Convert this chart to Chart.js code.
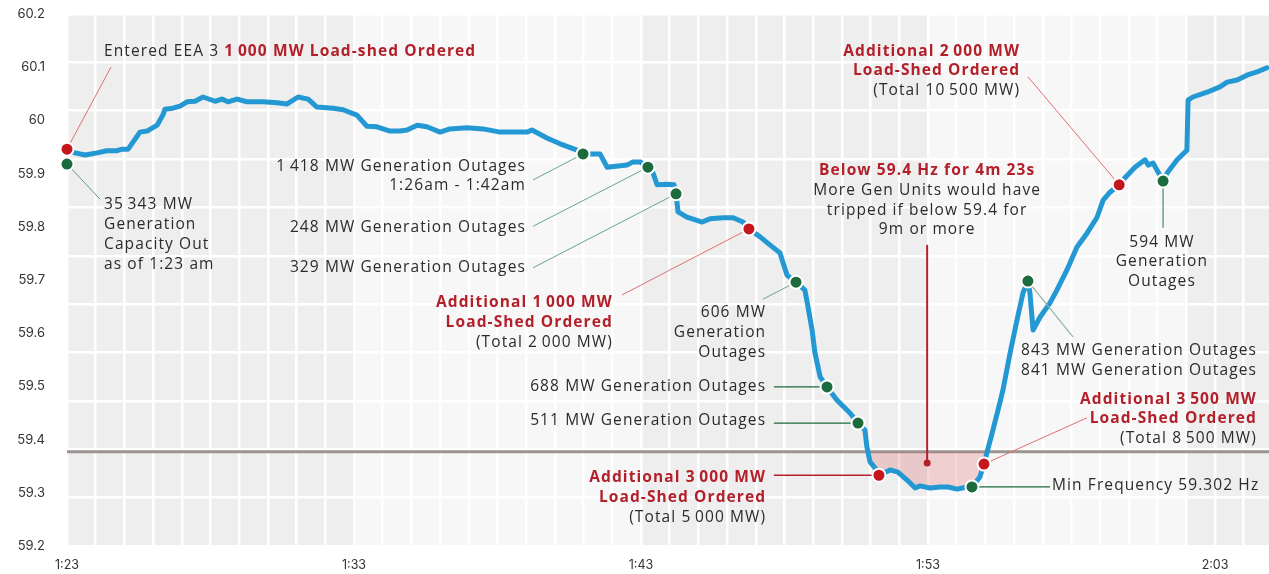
<!DOCTYPE html>
<html>
<head>
<meta charset="utf-8">
<script src="https://cdn.jsdelivr.net/npm/chart.js@4/dist/chart.umd.min.js"></script>
<style>
  html, body { margin: 0; padding: 0; background: #fff; }
</style>
</head>
<body>
<canvas id="freq" width="1269" height="574"></canvas>
<script>
// minutes after 1:23 am
const minutes = [0,0.28,0.63,1.05,1.39,1.74,1.92,2.13,2.54,2.79,3.14,3.34,3.41,3.69,3.94,4.18,4.46,4.74,5.16,5.40,
  5.61,5.92,6.27,6.83,7.32,7.67,8.05,8.40,8.71,9.27,9.62,10.10,10.45,10.80,11.25,11.60,11.85,12.20,12.54,13.00,
  13.34,13.94,14.49,15.09,16.03,16.20,16.72,17.18,17.77,17.98,18.33,18.57,18.82,19.51,19.72,19.97,20.24,20.42,20.56,20.91,
  21.15,21.22,21.29,21.60,22.13,22.40,22.86,23.21,23.55,23.76,24.15,24.49,24.84,24.95,25.09,25.40,25.71,25.82,25.96,26.06,
  26.24,26.48,26.83,27.28,27.56,27.80,27.87,27.98,28.15,28.29,28.68,28.95,29.27,29.55,29.72,30.07,30.42,30.70,31.01,31.36,
  31.53,31.81,31.95,32.06,32.26,32.44,32.61,32.86,33.10,33.31,33.48,33.55,33.66,33.90,34.25,34.49,34.84,35.19,35.54,35.89,
  36.10,36.34,36.66,36.79,37.21,37.56,37.67,37.84,38.19,38.33,38.68,39.02,39.06,39.23,39.72,40.17,40.42,40.77,41.11,41.46,41.81];
// frequency, Hz
const freq = [59.944,59.939,59.935,59.939,59.943,59.943,59.946,59.946,59.978,59.980,59.991,60.010,60.021,60.023,60.027,60.035,60.036,60.044,60.036,60.040,
  60.035,60.040,60.035,60.035,60.033,60.031,60.044,60.040,60.025,60.023,60.020,60.010,59.989,59.988,59.980,59.980,59.982,59.991,59.988,59.978,
  59.984,59.986,59.984,59.978,59.978,59.982,59.967,59.956,59.944,59.937,59.937,59.937,59.912,59.916,59.922,59.922,59.912,59.901,59.879,59.880,
  59.879,59.862,59.828,59.818,59.809,59.815,59.817,59.817,59.809,59.796,59.781,59.766,59.751,59.732,59.709,59.696,59.681,59.649,59.606,59.563,
  59.518,59.499,59.474,59.450,59.431,59.418,59.386,59.358,59.347,59.333,59.343,59.339,59.324,59.309,59.313,59.309,59.311,59.311,59.307,59.311,
  59.311,59.330,59.354,59.377,59.418,59.456,59.493,59.563,59.625,59.676,59.698,59.676,59.606,59.630,59.657,59.681,59.719,59.762,59.788,59.818,
  59.850,59.865,59.879,59.888,59.912,59.926,59.916,59.920,59.886,59.901,59.926,59.944,60.038,60.044,60.053,60.063,60.072,60.076,60.085,60.091,60.099];

// load-shed orders (red) and generation outages (green)
const shedMinutes = [0, 23.76, 28.29, 31.95, 36.66];
const shedFreq = [59.946, 59.796, 59.333, 59.354, 59.879];
const outageMinutes = [0, 17.98, 20.24, 21.22, 25.40, 26.48, 27.56, 31.53, 33.48, 38.19];
const outageFreq = [59.918, 59.937, 59.912, 59.862, 59.696, 59.499, 59.431, 59.311, 59.698, 59.886];

const threshold = 59.377;
const xMax = 41.88;
const tickMinutes = [0, 10, 20, 30, 40];
const tickLabels = ['1:23', '1:33', '1:43', '1:53', '2:03'];
const bandStarts = [0, 10, 20, 30, 39];

const RED = '#b3202a', DOT_RED = '#c4161c', GREEN = '#1b6b3c', TXT = '#2b2b2b';
const TS = '\u2009';

// annotation text, anchored in data units (minutes, Hz)
const notes = [
  { x: 1.29, y: 60.130, align: 'left', lines: [[['Entered EEA 3 ', 'n'], ['1' + TS + '000 MW Load-shed Ordered', 'r']]] },
  { x: 1.29, y: 59.841, align: 'left', lines: ['35' + TS + '343 MW', 'Generation', 'Capacity Out', 'as of 1:23 am'] },
  { x: 15.99, y: 59.914, align: 'right', lines: ['1' + TS + '418 MW Generation Outages', '1:26am - 1:42am'] },
  { x: 15.99, y: 59.799, align: 'right', lines: ['248 MW Generation Outages'] },
  { x: 15.99, y: 59.723, align: 'right', lines: ['329 MW Generation Outages'] },
  { x: 19.02, y: 59.657, align: 'right', lines: [[['Additional 1' + TS + '000 MW', 'r']], [['Load-Shed Ordered', 'r']], '(Total 2' + TS + '000 MW)'] },
  { x: 24.36, y: 59.638, align: 'right', lines: ['606 MW', 'Generation', 'Outages'] },
  { x: 24.36, y: 59.499, align: 'right', lines: ['688 MW Generation Outages'] },
  { x: 24.36, y: 59.435, align: 'right', lines: ['511 MW Generation Outages'] },
  { x: 24.36, y: 59.328, align: 'right', lines: [[['Additional 3' + TS + '000 MW', 'r']], [['Load-Shed Ordered', 'r']], '(Total 5' + TS + '000 MW)'] },
  { x: 29.97, y: 59.905, align: 'center', lines: [[['Below 59.4 Hz for 4m 23s', 'r']], 'More Gen Units would have', 'tripped if below 59.4 for', '9m or more'] },
  { x: 34.32, y: 59.313, align: 'left', lines: ['Min Frequency 59.302 Hz'] },
  { x: 41.46, y: 59.476, align: 'right', lines: [[['Additional 3' + TS + '500 MW', 'r']], [['Load-Shed Ordered', 'r']], '(Total 8' + TS + '500 MW)'] },
  { x: 41.46, y: 59.567, align: 'right', lines: ['843 MW Generation Outages', '841 MW Generation Outages'] },
  { x: 33.21, y: 60.130, align: 'right', lines: [[['Additional 2' + TS + '000 MW', 'r']], [['Load-Shed Ordered', 'r']], '(Total 10' + TS + '500 MW)'] },
  { x: 38.15, y: 59.771, align: 'center', lines: ['594 MW', 'Generation', 'Outages'] }
];

const leaders = [
  { from: [0, 59.946], to: [1.53, 60.100], color: '#e07070', w: 1 },
  { from: [0, 59.918], to: [1.15, 59.852], color: '#5f9e80', w: 1 },
  { from: [17.98, 59.937], to: [16.24, 59.888], color: '#6aa587', w: 1 },
  { from: [20.24, 59.912], to: [16.24, 59.801], color: '#6aa587', w: 1 },
  { from: [21.22, 59.862], to: [16.24, 59.723], color: '#6aa587', w: 1 },
  { from: [23.76, 59.796], to: [19.34, 59.672], color: '#e07070', w: 1 },
  { from: [25.40, 59.696], to: [24.25, 59.664], color: '#6aa587', w: 1 },
  { from: [26.48, 59.499], to: [24.63, 59.499], color: GREEN, w: 1.3 },
  { from: [27.56, 59.431], to: [24.63, 59.431], color: GREEN, w: 1.3 },
  { from: [28.29, 59.333], to: [24.63, 59.333], color: RED, w: 1.3 },
  { from: [31.53, 59.311], to: [34.25, 59.311], color: GREEN, w: 1.3 },
  { from: [31.95, 59.354], to: [35.54, 59.441], color: '#e07070', w: 1 },
  { from: [33.48, 59.698], to: [35.05, 59.593], color: '#8fb5a2', w: 1.2 },
  { from: [36.66, 59.879], to: [33.48, 60.082], color: '#e07070', w: 1 },
  { from: [38.19, 59.886], to: [38.19, 59.798], color: '#6aa587', w: 1.5 },
  { from: [29.97, 59.766], to: [29.97, 59.356], color: RED, w: 2 }
];
const belowMark = [29.97, 59.356];

const fontN = '15.5px "Open Sans"';
const fontB = 'bold 15.5px "Open Sans"';
const lineH = 19.7;

const bandsPlugin = {
  id: 'bands',
  beforeDraw(chart) {
    const { ctx, chartArea: a, scales: { x } } = chart;
    ctx.save();
    bandStarts.forEach((s, i) => {
      const e = i < bandStarts.length - 1 ? bandStarts[i + 1] : xMax;
      const x0 = x.getPixelForValue(s), x1 = x.getPixelForValue(e);
      ctx.fillStyle = i % 2 ? '#f7f7f7' : '#eeeeee';
      ctx.fillRect(x0, a.top, x1 - x0, a.bottom - a.top);
    });
    ctx.restore();
  }
};

const leadersPlugin = {
  id: 'leaders',
  afterDatasetDraw(chart, args) {
    if (args.index !== 0) return;
    const { ctx, scales: { x, y } } = chart;
    ctx.save();
    leaders.forEach(l => {
      ctx.beginPath();
      ctx.strokeStyle = l.color;
      ctx.lineWidth = l.w;
      ctx.moveTo(x.getPixelForValue(l.from[0]), y.getPixelForValue(l.from[1]));
      ctx.lineTo(x.getPixelForValue(l.to[0]), y.getPixelForValue(l.to[1]));
      ctx.stroke();
    });
    ctx.beginPath();
    ctx.fillStyle = RED;
    ctx.arc(x.getPixelForValue(belowMark[0]), y.getPixelForValue(belowMark[1]), 3.5, 0, Math.PI * 2);
    ctx.fill();
    ctx.restore();
  }
};

const notesPlugin = {
  id: 'notes',
  afterDraw(chart) {
    const { ctx, scales: { x, y } } = chart;
    ctx.save();
    ctx.textBaseline = 'middle';
    ctx.letterSpacing = '1.1px';
    notes.forEach(n => {
      const px = x.getPixelForValue(n.x);
      let py = y.getPixelForValue(n.y);
      n.lines.forEach(line => {
        const runs = typeof line === 'string' ? [[line, 'n']] : line;
        const widths = runs.map(r => { ctx.font = r[1] === 'r' ? fontB : fontN; return ctx.measureText(r[0]).width; });
        const total = widths.reduce((s, w) => s + w, 0);
        let sx = n.align === 'left' ? px : n.align === 'right' ? px - total : px - total / 2;
        runs.forEach((r, i) => {
          ctx.font = r[1] === 'r' ? fontB : fontN;
          ctx.fillStyle = r[1] === 'r' ? RED : TXT;
          ctx.fillText(r[0], sx, py);
          sx += widths[i];
        });
        py += lineH;
      });
    });
    ctx.restore();
  }
};

// keep the plot box fixed: 67..1269 wide, 14..546 high
const noPad = s => { s.paddingTop = 0; s.paddingBottom = 0; s.paddingLeft = 0; s.paddingRight = 0; };

new Chart(document.getElementById('freq'), {
  type: 'line',
  data: {
    datasets: [
      {
        data: minutes.map((m, i) => ({ x: m, y: freq[i] })),
        borderColor: '#2398d3',
        borderWidth: 5,
        borderJoinStyle: 'round',
        borderCapStyle: 'round',
        pointRadius: 0,
        tension: 0,
        fill: { target: { value: threshold }, above: 'rgba(0,0,0,0)', below: 'rgba(214,70,70,0.22)' },
        order: 1
      },
      {
        data: [{ x: 0, y: threshold }, { x: xMax, y: threshold }],
        borderColor: '#9b9693',
        borderWidth: 3,
        pointRadius: 0,
        order: 2
      },
      {
        data: shedMinutes.map((m, i) => ({ x: m, y: shedFreq[i] })),
        showLine: false,
        pointRadius: 6.5,
        pointBackgroundColor: DOT_RED,
        pointBorderColor: '#fff',
        pointBorderWidth: 2,
        order: 0
      },
      {
        data: outageMinutes.map((m, i) => ({ x: m, y: outageFreq[i] })),
        showLine: false,
        pointRadius: 6.5,
        pointBackgroundColor: GREEN,
        pointBorderColor: '#fff',
        pointBorderWidth: 2,
        order: 0
      }
    ]
  },
  options: {
    responsive: false,
    animation: false,
    clip: false,
    layout: { autoPadding: false, padding: { top: 14, right: 0, left: 0, bottom: 0 } },
    plugins: { legend: { display: false }, tooltip: { enabled: false } },
    scales: {
      x: {
        type: 'linear',
        min: 0,
        max: xMax,
        grid: { color: '#ffffff', lineWidth: 2.5, drawTicks: false },
        border: { display: false },
        ticks: {
          stepSize: 1,
          autoSkip: false,
          includeBounds: false,
          maxRotation: 0,
          padding: 12,
          color: '#333',
          font: { family: 'Inter', size: 12.5 },
          callback: v => { const k = tickMinutes.indexOf(v); return k >= 0 ? tickLabels[k] : ''; }
        },
        afterFit: s => { s.height = 28; noPad(s); }
      },
      y: {
        min: 59.2,
        max: 60.2,
        grid: { display: false, drawTicks: false },
        border: { display: false },
        ticks: {
          stepSize: 0.1,
          padding: 22,
          color: '#333',
          font: { family: 'Inter', size: 13 },
          callback: v => String(+v.toFixed(1))
        },
        afterFit: s => { s.width = 67; noPad(s); }
      },
      grid2: {
        type: 'linear',
        position: 'right',
        min: 0,
        max: 11,
        grid: { color: '#ffffff', lineWidth: 2.5, drawTicks: false },
        border: { display: false },
        ticks: { display: false, stepSize: 1 },
        afterFit: s => { s.width = 0; noPad(s); }
      }
    }
  },
  plugins: [bandsPlugin, leadersPlugin, notesPlugin]
});
</script>
</body>
</html>
